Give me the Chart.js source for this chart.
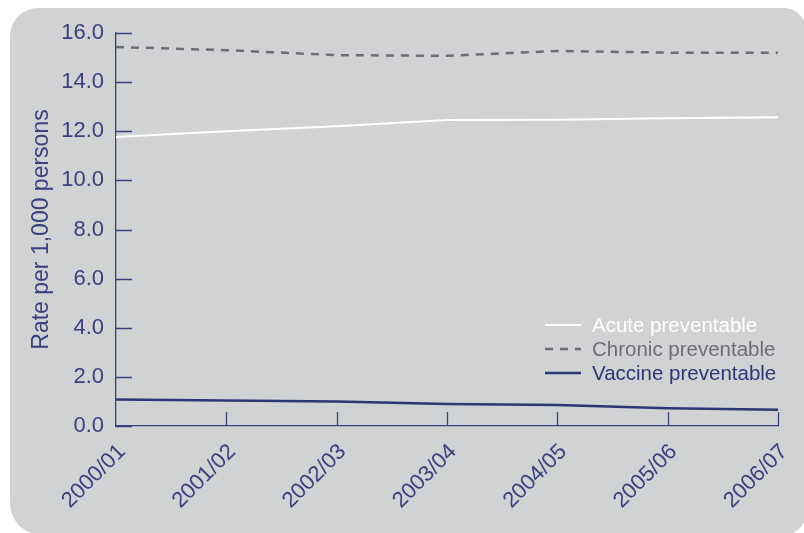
<!DOCTYPE html>
<html><head><meta charset="utf-8">
<script src="https://cdn.jsdelivr.net/npm/chart.js@4"></script>
<style>html,body{margin:0;padding:0;background:#fff}#wrap{width:804px;height:533px;position:relative}</style>
</head><body><div id="wrap"><canvas id="c" width="804" height="533"></canvas></div>
<script>
const categories = ["2000/01","2001/02","2002/03","2003/04","2004/05","2005/06","2006/07"];
const acute = [11.77, 12.0, 12.2, 12.46, 12.47, 12.53, 12.57];
const chronic = [15.43, 15.3, 15.1, 15.07, 15.27, 15.2, 15.2];
const vaccine = [1.08, 1.04, 1.0, 0.9, 0.85, 0.72, 0.66];
const yTicks = [0,2,4,6,8,10,12,14,16];

const NAVY = '#3a4080';
const FONT = "'Liberation Sans', Arial, sans-serif";

const bgPlugin = {
  id: 'bg',
  beforeDraw(chart) {
    const ctx = chart.ctx;
    ctx.save();
    ctx.fillStyle = '#d1d2d4';
    ctx.beginPath();
    ctx.roundRect(10, 8, 796, 527, [28, 22, 22, 32]);
    ctx.fill();
    ctx.restore();
  }
};
const tickPlugin = {
  id: 'ticks',
  afterDraw(chart) {
    const ctx = chart.ctx, x = chart.scales.x, y = chart.scales.y;
    ctx.save();
    ctx.strokeStyle = NAVY; ctx.lineWidth = 1.3;
    ctx.beginPath();
    y.ticks.forEach((t, i) => { const py = Math.round(y.getPixelForTick(i)) + 0.5; ctx.moveTo(x.left, py); ctx.lineTo(x.left + 16, py); });
    x.ticks.forEach((t, i) => { if (i === 0) return; const px = Math.round(x.getPixelForTick(i)) + 0.5; ctx.moveTo(px, y.bottom); ctx.lineTo(px, y.bottom - 14); });
    ctx.stroke();
    // legend
    const ds = chart.data.datasets;
    ds.forEach((d, i) => {
      const ly = 325 + i * 24;
      ctx.strokeStyle = d.borderColor; ctx.lineWidth = d.borderWidth;
      ctx.setLineDash(d.borderDash || []);
      ctx.beginPath(); ctx.moveTo(545, ly); ctx.lineTo(581, ly); ctx.stroke();
      ctx.setLineDash([]);
      ctx.fillStyle = d.legendText; ctx.font = "20.5px " + FONT; ctx.textBaseline = 'middle';
      ctx.fillText(d.label, 592, ly + 1);
    });
    ctx.restore();
  }
};

new Chart(document.getElementById('c'), {
  type: 'line',
  data: {
    labels: categories,
    datasets: [
      {label: 'Acute preventable', data: acute, borderColor: '#ffffff', borderWidth: 2, pointRadius: 0, tension: 0, legendText: '#ffffff'},
      {label: 'Chronic preventable', data: chronic, borderColor: '#6d6e71', borderWidth: 2.5, borderDash: [8, 7], pointRadius: 0, tension: 0, legendText: '#6d6e71'},
      {label: 'Vaccine preventable', data: vaccine, borderColor: '#2f3675', borderWidth: 2.5, pointRadius: 0, tension: 0, legendText: '#2f3675'}
    ]
  },
  options: {
    responsive: false, animation: false,
    layout: {padding: {left: 0, top: 33, right: 26, bottom: 0}},
    plugins: {legend: {display: false}, tooltip: {enabled: false}},
    scales: {
      x: {
        offset: false,
        grid: {display: false},
        border: {display: true, color: NAVY, width: 1.3},
        ticks: {color: NAVY, font: {family: FONT, size: 22}, minRotation: 45, maxRotation: 45, padding: 5, labelOffset: 6, autoSkip: false},
        afterFit(s) { s.height = 107; }
      },
      y: {
        min: 0, max: 16,
        afterBuildTicks(s) { s.ticks = yTicks.map(v => ({value: v})); },
        grid: {display: false},
        border: {display: true, color: NAVY, width: 1.3},
        ticks: {color: NAVY, font: {family: FONT, size: 22}, padding: 4, callback: v => Number(v).toFixed(1)},
        title: {display: true, text: 'Rate per 1,000 persons', color: NAVY, font: {family: FONT, size: 23}, padding: {top: 28, bottom: 0}},
        afterFit(s) { s.width = 116; }
      }
    }
  },
  plugins: [bgPlugin, tickPlugin]
});
</script></body></html>
